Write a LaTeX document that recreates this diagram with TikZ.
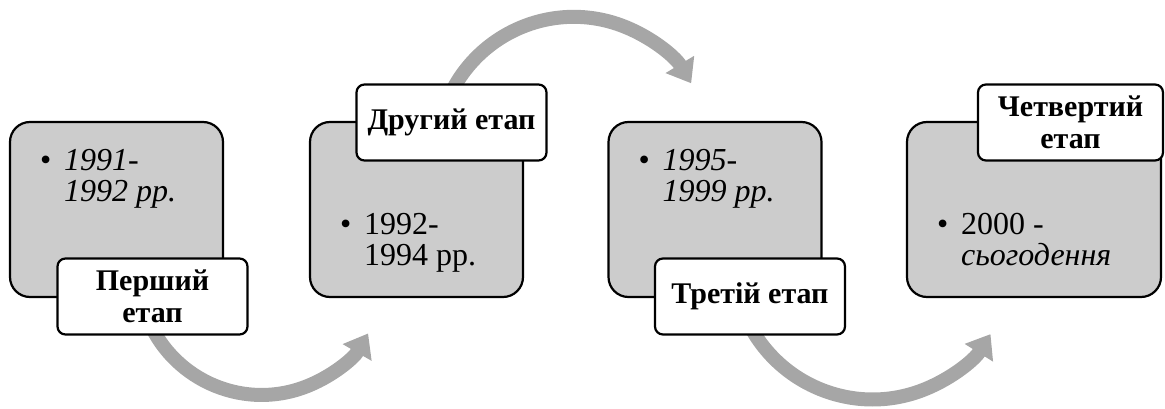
\documentclass[tikz,border=0pt]{standalone}
\usepackage{fontspec}
\setmainfont{Liberation Serif}
\usetikzlibrary{arrows.meta}
\definecolor{boxgray}{RGB}{204,204,204}
\definecolor{arrowgray}{RGB}{166,166,166}
\newcommand{\stagebullet}{\makebox[24pt][l]{\textbullet}}
\newcommand{\stageindent}{\hspace*{24pt}}

\begin{document}
\begin{tikzpicture}[x=1pt, y=1pt,
                    stage/.style={draw, line width=2.2pt, fill=boxgray, rounded corners=20pt, minimum width=213pt, minimum height=175pt},
                    tag/.style={draw, line width=2.2pt, fill=white, rounded corners=8pt, align=center, minimum width=190pt, minimum height=76pt, inner sep=0pt, font=\fontsize{30}{32}\selectfont\bfseries},
                    item/.style={anchor=north west, align=left, inner sep=0pt, font=\fontsize{32}{31}\selectfont},
                    flow/.style={arrowgray, line width=14pt, -{Triangle[width=32pt, length=22pt]}}]
\useasboundingbox (0,0) rectangle (1165,408);

% arrows behind the boxes
\coordinate (a1) at (146,94);
\coordinate (a2) at (445,301);
\coordinate (a3) at (742,100);
\draw[flow] (a1) arc[start angle=200, end angle=330, radius=123];
\draw[flow] (a2) arc[start angle=160, end angle=31, radius=137];
\draw[flow] (a3) arc[start angle=200, end angle=328, radius=139];

% stages
\node[stage] (b1) at (116.5,198.5) {};
\node[stage] (b2) at (416.5,198.5) {};
\node[stage] (b3) at (715,198.5) {};
\node[stage, minimum width=254pt] (b4) at (1034,198.5) {};

\node[item] (t1) at ([xshift=31pt, yshift=-28pt]b1.north west) {\stagebullet\textit{1991-}\\\stageindent\textit{1992 рр.}};
\node[item] (t2) at ([xshift=31pt, yshift=-92pt]b2.north west) {\stagebullet 1992-\\\stageindent 1994 рр.};
\node[item] (t3) at ([xshift=31pt, yshift=-28pt]b3.north west) {\stagebullet\textit{1995-}\\\stageindent\textit{1999 рр.}};
\node[item] (t4) at ([xshift=31pt, yshift=-92pt]b4.north west) {\stagebullet 2000 -\\\stageindent\textit{сьогодення}};

% labels
\node[tag] (l1) at (152.5,111.5) {Перший\\етап};
\node[tag] (l2) at (451.5,285.5) {Другий етап};
\node[tag] (l3) at (750,111.5) {Третій етап};
\node[tag, minimum width=185pt] (l4) at (1070.5,285.5) {Четвертий\\етап};
\end{tikzpicture}
\end{document}
